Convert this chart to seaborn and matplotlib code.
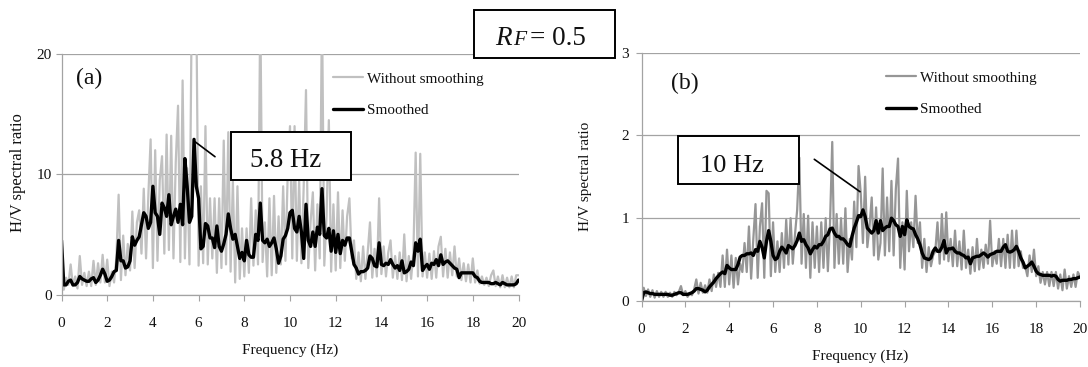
import pandas as pd
import numpy as np
import seaborn as sns
import matplotlib
matplotlib.use("Agg")
import matplotlib.pyplot as plt
from matplotlib.patches import Rectangle
from matplotlib.lines import Line2D
from matplotlib.transforms import Affine2D

freq = [
 0.0,0.1,0.2,0.3,0.4,0.5,0.6,0.7,0.8,0.9,
 1.0,1.1,1.2,1.3,1.4,1.5,1.6,1.7,1.8,1.9,
 2.0,2.1,2.2,2.3,2.4,2.5,2.6,2.7,2.8,2.9,
 3.0,3.1,3.2,3.3,3.4,3.5,3.6,3.7,3.8,3.9,
 4.0,4.1,4.2,4.3,4.4,4.5,4.6,4.7,4.8,4.9,
 5.0,5.1,5.2,5.3,5.4,5.5,5.6,5.7,5.8,5.9,
 6.0,6.1,6.2,6.3,6.4,6.5,6.6,6.7,6.8,6.9,
 7.0,7.1,7.2,7.3,7.4,7.5,7.6,7.7,7.8,7.9,
 8.0,8.1,8.2,8.3,8.4,8.5,8.6,8.7,8.8,8.9,
 9.0,9.1,9.2,9.3,9.4,9.5,9.6,9.7,9.8,9.9,
 10.0,10.1,10.2,10.3,10.4,10.5,10.6,10.7,10.8,10.9,
 11.0,11.1,11.2,11.3,11.4,11.5,11.6,11.7,11.8,11.9,
 12.0,12.1,12.2,12.3,12.4,12.5,12.6,12.7,12.8,12.9,
 13.0,13.1,13.2,13.3,13.4,13.5,13.6,13.7,13.8,13.9,
 14.0,14.1,14.2,14.3,14.4,14.5,14.6,14.7,14.8,14.9,
 15.0,15.1,15.2,15.3,15.4,15.5,15.6,15.7,15.8,15.9,
 16.0,16.1,16.2,16.3,16.4,16.5,16.6,16.7,16.8,16.9,
 17.0,17.1,17.2,17.3,17.4,17.5,17.6,17.7,17.8,17.9,
 18.0,18.1,18.2,18.3,18.4,18.5,18.6,18.7,18.8,18.9,
 19.0,19.1,19.2,19.3,19.4,19.5,19.6,19.7,19.8,19.9,
 20.0]

raw_a = [
 4.5,0.4,1.4,0.8,2.5,0.7,1.5,0.5,3.2,0.8,
 1.8,0.7,1.9,0.7,2.8,0.8,2.6,1.0,3.3,1.0,
 2.9,0.7,1.9,1.0,3.0,8.3,1.2,4.9,1.6,4.2,
 2.0,6.9,2.2,6.0,7.0,3.4,8.8,3.0,8.2,12.9,
 2.2,12.0,2.8,9.5,11.5,3.4,13.3,3.7,13.2,3.0,
 11.0,15.7,2.7,17.8,3.0,10.5,2.5,24,24,24,
 2.4,9,2.6,14,2.5,8,3.0,8,1.8,8,
 2.2,12.8,2.5,13.5,1.9,9.5,1.0,9,1.3,5.5,
 1.5,5.5,1.8,8,2.4,7,2.5,24,2.7,6,
 1.5,8,1.6,8.2,1.8,6.5,2.5,9,2.8,10,
 14.0,3.0,14.0,2.8,9.5,2.6,9.0,17,2.2,6.0,
 8.5,2.0,7.5,3.0,24,2.4,6.5,14.5,1.9,7.5,
 2.0,8.5,2.2,7.0,2.8,6.5,8.0,3.0,4.5,1.3,
 3.5,1.1,4.0,1.3,3.5,6.0,1.4,3.8,1.5,8.0,
 1.7,4.0,1.5,3.5,4.5,1.4,3.2,1.3,3.5,1.2,
 5.0,1.1,3.2,1.3,3.5,11.8,1.5,11.7,1.5,3.5,
 1.4,3.4,1.3,3.6,1.4,4.0,4.8,1.5,3.8,1.4,
 3.5,1.6,4.0,1.5,3.0,1.2,2.6,1.1,2.5,1.0,
 3.0,1.0,2.0,0.9,1.5,0.8,1.4,0.7,1.6,2.0,
 0.7,1.5,0.6,1.6,0.6,1.4,0.6,1.5,0.6,1.6,
 1.6]

smooth_a = [
 4.5,0.8,0.8,1.1,1.2,0.8,0.8,1.0,1.5,1.3,
 1.2,1.1,1.1,1.3,1.4,1.0,1.2,1.6,2.1,1.7,
 1.1,1.2,1.5,1.9,2.0,4.5,2.8,2.8,2.2,2.3,
 2.8,4.8,4.1,4.5,4.8,5.8,6.8,6.5,5.5,6.0,
 9.0,6.8,6.5,5.0,7.6,7.2,6.5,8.3,5.8,6.5,
 7.1,6.0,7.5,5.8,11.3,9.0,6.0,6.5,12.9,9.0,
 8.0,3.8,4.0,5.9,5.7,4.7,4.7,3.9,5.7,4.0,
 3.6,4.2,5.0,6.7,5.5,4.6,5.0,4.0,3.0,3.5,
 2.8,4.5,3.3,3.1,3.1,5.0,4.5,7.6,4.5,4.3,
 4.6,4.0,4.3,4.7,3.8,2.6,3.2,4.6,4.9,5.5,
 6.8,7.0,5.5,5.2,6.5,5.2,3.0,7.5,4.5,4.0,
 5.2,4.0,5.6,5.0,8.8,4.9,4.7,5.5,3.6,5.3,
 3.5,5.0,3.4,4.5,4.1,4.7,4.7,3.6,2.5,2.2,
 1.7,1.9,1.9,2.0,2.2,3.2,3.0,2.4,2.3,4.3,
 2.5,2.4,2.6,2.5,2.9,2.5,2.2,2.4,2.0,2.8,
 1.8,1.9,2.1,2.7,2.4,4.3,3.6,4.6,2.0,2.3,
 2.5,2.1,2.6,2.5,2.9,2.4,3.3,2.5,2.7,2.8,
 2.6,2.4,2.2,2.1,1.4,1.8,1.8,1.8,1.8,1.8,
 1.8,1.5,1.4,1.1,1.0,1.0,1.0,1.0,0.9,0.9,
 1.0,0.9,0.8,1.0,0.9,0.8,0.8,0.8,0.8,0.9,
 1.2]

raw_b = [
 0,.16,.06,.14,.05,.13,.04,.12,.05,.11,
 .05,.11,.05,.10,.05,.11,.07,.11,.18,.07,
 .12,.05,.09,.07,.14,.26,.09,.22,.10,.19,
 .10,.26,.12,.32,.17,.34,.17,.55,.17,.62,
 .2,.55,.16,.52,.2,.45,.35,.7,.35,.9,
 .27,.75,1.17,.28,.9,1.18,.28,1.33,1.3,.3,
 .95,.35,.72,.35,.82,.4,.98,.44,1.0,.45,
 .8,1.1,1.73,.45,1.05,.4,1.03,.28,.95,.4,
 .9,.35,.95,.4,1.0,.36,.95,1.92,.4,1.05,
 .45,1.0,.45,1.12,.35,.75,.5,1.2,.65,1.63,
 1.3,.7,1.5,.65,.9,1.25,.55,1.13,.5,.7,
 1.6,.55,1.25,.6,1.45,.55,1.35,1.72,.4,.95,
 .38,1.33,.6,.95,.65,1.27,.7,.95,.4,.75,
 .35,.65,.42,.55,.6,.95,.45,1.05,.5,1.07,
 .48,.75,.42,.85,.42,.72,.38,.85,.4,.62,
 .33,.65,.36,.75,.38,.62,.4,.68,.45,.97,
 .42,.6,.45,.75,.42,.75,.4,.8,.4,.85,
 .4,.85,.42,.6,.4,.42,.3,.55,.35,.62,
 .3,.42,.22,.35,.2,.35,.18,.35,.18,.35,
 .15,.32,.13,.38,.15,.3,.17,.32,.17,.35,
 .3]

smooth_b = [
 0,.1,.11,.1,.09,.09,.08,.08,.08,.08,
 .08,.08,.08,.07,.07,.08,.09,.1,.1,.08,
 .08,.08,.09,.1,.12,.15,.15,.14,.13,.11,
 .13,.17,.2,.23,.27,.3,.33,.35,.33,.43,
 .4,.38,.38,.38,.44,.53,.55,.55,.57,.57,
 .58,.55,.62,.6,.72,.65,.52,.72,.85,.72,
 .55,.5,.52,.6,.65,.62,.58,.67,.65,.63,
 .67,.73,.82,.72,.74,.68,.64,.57,.62,.66,
 .64,.68,.68,.72,.78,.8,.87,.88,.82,.78,
 .78,.75,.75,.72,.68,.66,.78,.88,.95,1.03,
 1.02,1.1,1.02,.88,.85,.82,.85,.97,.82,.97,
 .85,.88,.9,.9,1.0,.97,.92,.9,.78,.9,
 .8,.98,.9,.88,.87,.8,.75,.68,.58,.52,
 .51,.5,.52,.6,.64,.6,.6,.65,.73,.58,
 .63,.63,.64,.6,.58,.58,.56,.55,.52,.53,
 .45,.52,.53,.54,.54,.56,.58,.56,.53,.56,
 .57,.58,.6,.6,.6,.65,.68,.6,.59,.6,
 .62,.66,.6,.52,.47,.4,.42,.44,.47,.42,
 .36,.33,.32,.31,.31,.31,.31,.3,.31,.3,
 .26,.24,.25,.25,.25,.26,.26,.27,.27,.28,
 .29]

x_ticks = [0, 2, 4, 6, 8, 10, 12, 14, 16, 18, 20]
y_ticks_a = [0, 10, 20]
y_ticks_b = [0, 1, 2, 3]

W, H = 1088, 367
sns.set_style("white")
plt.rcParams["font.family"] = ["Liberation Serif", "DejaVu Serif"]
fig = plt.figure(figsize=(W / 100, H / 100), dpi=100, facecolor="white")
PX = Affine2D().scale(1, -1).translate(0, H)  # reference pixel coords, y down
GRID = "#a3a3a3"


def panel(left, right, top, bottom, raw, smooth, raw_col, ylim, yticks, tag, tag_xy,
          ylab_x, ylab_y, xlab_x, xlab_y, ylab_size, leg_xy, ypad, xpad):
    ax = fig.add_axes([left / W, 1 - bottom / H, (right - left) / W, (bottom - top) / H])
    df = pd.DataFrame({"f": freq, "raw": raw, "smooth": smooth})
    ax.set_axisbelow(True)
    ax.yaxis.grid(True, color=GRID, lw=0.9)
    ax.xaxis.grid(False)
    sns.lineplot(data=df, x="f", y="raw", ax=ax, color=raw_col, lw=1.6, estimator=None,
                 sort=False, label="Without smoothing", legend=False)
    sns.lineplot(data=df, x="f", y="smooth", ax=ax, color="black", lw=2.4, estimator=None,
                 sort=False, label="Smoothed", legend=False)
    ax.set_xlim(0, 20)
    ax.set_ylim(*ylim)
    ax.set_xticks(x_ticks)
    ax.set_yticks(yticks)
    ax.tick_params(axis="both", which="major", left=True, bottom=True, length=4,
                   width=0.8, color=GRID, labelsize=11, labelcolor="#111111")
    ax.tick_params(axis="y", pad=ypad)
    ax.tick_params(axis="x", pad=xpad)
    for s in ("top", "right"):
        ax.spines[s].set_visible(False)
    for s in ("left", "bottom"):
        ax.spines[s].set_color(GRID)
        ax.spines[s].set_linewidth(0.9)
    ax.set_xlabel("Frequency (Hz)", fontsize=11, color="#111111", va="center")
    ax.set_ylabel("H/V spectral ratio", fontsize=ylab_size, color="#111111", va="center")
    ax.xaxis.set_label_coords(xlab_x, xlab_y, transform=PX)
    ax.yaxis.set_label_coords(ylab_x, ylab_y, transform=PX)
    fig.text(tag_xy[0], tag_xy[1], tag, transform=PX, fontsize=17, va="center", ha="left", color="#111111")
    h, l = ax.get_legend_handles_labels()
    ax.legend(h, l, loc="upper left", bbox_to_anchor=leg_xy, bbox_transform=PX, frameon=False,
              fontsize=10.9, handlelength=1.95, handletextpad=0.3, labelspacing=1.2,
              borderpad=0, borderaxespad=0, labelcolor="#111111")
    return ax


panel(61.5, 518.5, 54, 294.5, raw_a, smooth_a, "#c0c0c0", (0, 20), y_ticks_a, "(a)", (76, 78),
      18, 172.5, 290, 350, 12, (333, 72), 3, 12)
panel(641.5, 1080, 52.5, 301, raw_b, smooth_b, "#969696", (0, 3), y_ticks_b, "(b)", (671, 83),
      586, 176.5, 860, 356, 11, (886, 71), 5, 12)


def box(x0, y0, x1, y1):
    fig.add_artist(Rectangle((x0, y1), x1 - x0, y0 - y1, transform=PX, fc="white", ec="black",
                             lw=1.4, zorder=6))


def seg(x0, y0, x1, y1):
    fig.add_artist(Line2D([x0, x1], [y0, y1], transform=PX, color="black", lw=1.2, zorder=6))


box(230.7, 132, 350.7, 180)
box(678.3, 135.7, 798.7, 183.7)
box(474.3, 9.5, 614.7, 58)
seg(195, 141.7, 215, 156.7)
seg(814.3, 159.3, 860, 191.7)

fig.text(250, 167, "5.8 Hz", transform=PX, fontsize=19.3, color="#111111", zorder=7)
fig.text(700, 172, "10 Hz", transform=PX, fontsize=19, color="#111111", zorder=7)
fig.text(495, 45, "R", transform=PX, fontsize=19.5, style="italic", color="#111111", zorder=7)
fig.text(513, 45, "F", transform=PX, fontsize=15.5, style="italic", color="#111111", zorder=7)
fig.text(530, 45, "= 0.5", transform=PX, fontsize=19.5, color="#111111", zorder=7)

fig.savefig("out.png", dpi=100)
